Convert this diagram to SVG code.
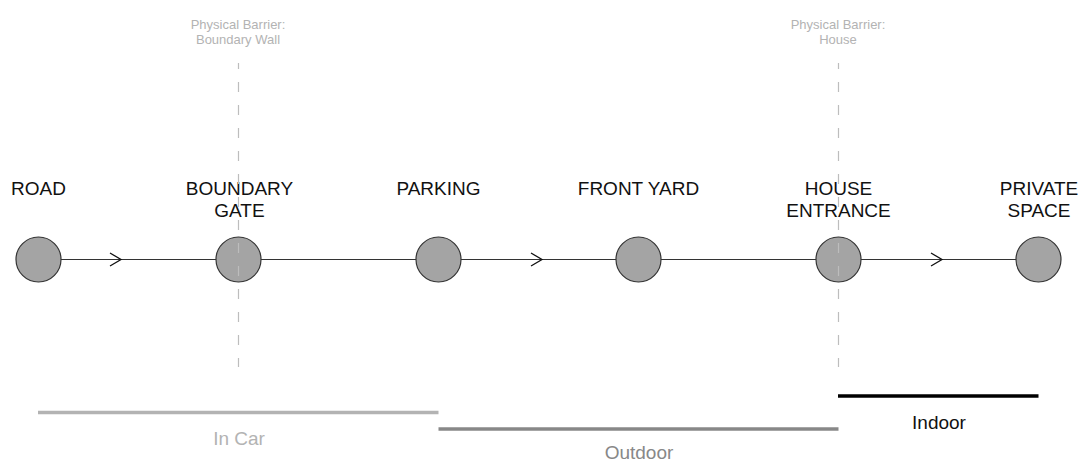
<svg xmlns="http://www.w3.org/2000/svg" width="1079" height="461" viewBox="0 0 1079 461">
<style>
.node circle{fill:#a4a4a4;stroke:#333;stroke-width:1.2}
.lbl{font-family:"Liberation Sans",Arial,sans-serif;font-size:19px;fill:#111;text-anchor:middle}
.bar-lbl{font-family:"Liberation Sans",Arial,sans-serif;font-size:19px;text-anchor:middle}
.note{font-family:"Liberation Sans",Arial,sans-serif;font-size:13px;fill:#b3b3b3;text-anchor:middle}
.conn line{stroke:#333;stroke-width:1}
.chev{fill:none;stroke:#111;stroke-width:1.3}
.barrier{stroke:#bdbdbd;stroke-width:1.2;stroke-dasharray:10 13;stroke-dashoffset:4}
</style>
<rect width="1079" height="461" fill="#fff"/>
<g id="connectors" class="conn">
<line x1="61" y1="259.5" x2="216" y2="259.5"/>
<line x1="261" y1="259.5" x2="416" y2="259.5"/>
<line x1="461" y1="259.5" x2="616" y2="259.5"/>
<line x1="661" y1="259.5" x2="816" y2="259.5"/>
<line x1="861" y1="259.5" x2="1016" y2="259.5"/>
<polyline class="chev" points="110,253 121,259.5 110,266"/>
<polyline class="chev" points="531,253 542,259.5 531,266"/>
<polyline class="chev" points="931,253 942,259.5 931,266"/>
</g>
<g id="node-road" class="node"><circle cx="38.5" cy="259.5" r="22.5"/><text class="lbl" x="38.5" y="195">ROAD</text></g>
<g id="node-boundary-gate" class="node"><circle cx="238.5" cy="259.5" r="22.5"/><text class="lbl" x="239.5" y="195">BOUNDARY</text><text class="lbl" x="239.5" y="217">GATE</text></g>
<g id="node-parking" class="node"><circle cx="438.5" cy="259.5" r="22.5"/><text class="lbl" x="438.5" y="195">PARKING</text></g>
<g id="node-front-yard" class="node"><circle cx="638.5" cy="259.5" r="22.5"/><text class="lbl" x="638.5" y="195">FRONT YARD</text></g>
<g id="node-house-entrance" class="node"><circle cx="838.5" cy="259.5" r="22.5"/><text class="lbl" x="838.5" y="195">HOUSE</text><text class="lbl" x="838.5" y="217">ENTRANCE</text></g>
<g id="node-private-space" class="node"><circle cx="1038.5" cy="259.5" r="22.5"/><text class="lbl" x="1039" y="195">PRIVATE</text><text class="lbl" x="1039" y="217">SPACE</text></g>
<g id="barrier-wall">
<line class="barrier" x1="238.5" y1="63" x2="238.5" y2="367"/>
<text class="note" x="238" y="29">Physical Barrier:</text>
<text class="note" x="238" y="44">Boundary Wall</text>
</g>
<g id="barrier-house">
<line class="barrier" x1="838.5" y1="63" x2="838.5" y2="367"/>
<text class="note" x="838" y="29">Physical Barrier:</text>
<text class="note" x="838" y="44">House</text>
</g>
<g id="zone-in-car">
<line x1="38" y1="412.5" x2="438.5" y2="412.5" stroke="#b3b3b3" stroke-width="3.5"/>
<text class="bar-lbl" x="239" y="445" fill="#b3b3b3">In Car</text>
</g>
<g id="zone-outdoor">
<line x1="438.5" y1="429" x2="838.5" y2="429" stroke="#888" stroke-width="3.5"/>
<text class="bar-lbl" x="639" y="459" fill="#888">Outdoor</text>
</g>
<g id="zone-indoor">
<line x1="838" y1="396" x2="1038.5" y2="396" stroke="#000" stroke-width="3.5"/>
<text class="bar-lbl" x="939" y="429" fill="#111">Indoor</text>
</g>
</svg>
